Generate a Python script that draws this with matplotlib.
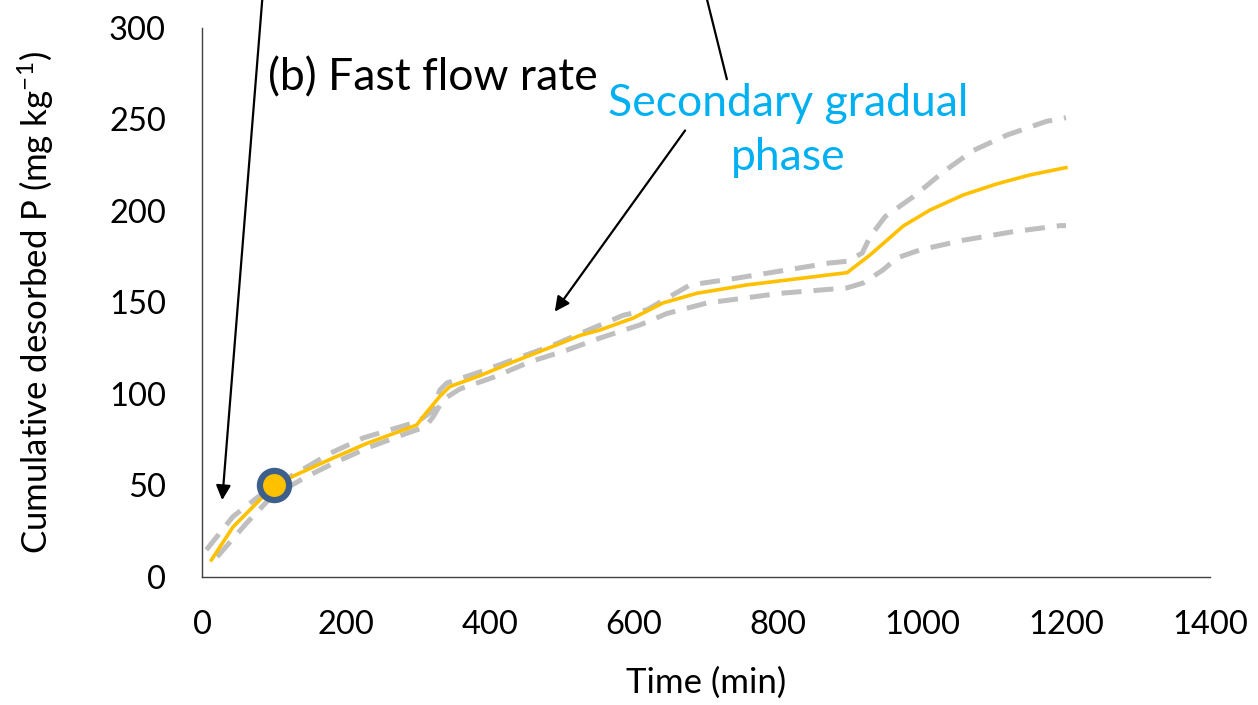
"""Cumulative desorbed P over time for the fast flow rate column."""
import matplotlib
matplotlib.use("Agg")
import matplotlib.pyplot as plt

plt.rcParams["font.family"] = ["Lato", "DejaVu Sans"]
plt.rcParams["mathtext.default"] = "regular"

# mean curve
time_mean = [13, 43, 85, 100, 126, 182, 229, 298, 312, 331, 344, 386, 432,
             500, 525, 553, 599, 640, 687, 757, 896, 928, 974, 1011, 1057,
             1104, 1150, 1200]
p_mean = [9.3, 27.3, 44, 50, 55, 65, 73, 83, 90, 99, 104, 110, 117.5,
          128, 132, 135, 141.5, 149.7, 155, 159.6, 166.3, 176, 191.8, 200.5,
          208.7, 214.8, 219.7, 223.7]

# upper bound
time_upper = [6, 43, 90, 131, 178, 224, 275, 300, 321, 330, 340, 386, 441,
              488, 525, 585, 618, 678, 738, 872, 896, 917, 928, 949, 988,
              1030, 1071, 1118, 1173, 1200]
p_upper = [14.8, 33, 47.5, 56.7, 67.6, 76, 82, 85, 91, 102, 106, 112, 120,
           126.7, 133, 143, 146, 159.6, 163, 171.6, 172.5, 177, 186, 197,
           207.8, 221.5, 233, 241.5, 249, 251]

# lower bound
time_lower = [21, 62, 97, 146, 187, 233, 285, 310, 321, 335, 358, 404, 455,
              507, 553, 608, 646, 701, 803, 896, 918, 946, 965, 997, 1057,
              1127, 1192, 1200]
p_lower = [11, 29.5, 44, 55, 63, 71, 78.6, 82, 87.5, 97, 102.7, 109, 117.5,
           124, 130.6, 137.7, 144, 149.7, 155, 158, 160.6, 167.8, 174.3,
           178.7, 184, 188.7, 192, 192]

# highlighted point
mark_t, mark_p = 100, 50

x_ticks = [0, 200, 400, 600, 800, 1000, 1200, 1400]
y_ticks = [0, 50, 100, 150, 200, 250, 300]

fig = plt.figure(figsize=(12.58, 7.05), dpi=100)
ax = fig.add_axes([0.1606, 0.1816, 0.8012, 0.7787])

dash = (0, (4, 2.4))
ax.plot(time_upper, p_upper, color="#BFBFBF", lw=3.6, ls=dash,
        solid_joinstyle="round", zorder=2)
ax.plot(time_lower, p_lower, color="#BFBFBF", lw=3.6, ls=dash,
        solid_joinstyle="round", zorder=2)
ax.plot(time_mean, p_mean, color="#FFC000", lw=2.6, solid_joinstyle="round",
        zorder=3)
ax.plot([mark_t], [mark_p], "o", ms=21, mfc="#FFC000", mec="#3D5F8C",
        mew=4.5, zorder=4)

ax.set_xlim(0, 1400)
ax.set_ylim(0, 300)
ax.set_xticks(x_ticks)
ax.set_yticks(y_ticks)
ax.tick_params(axis="both", length=0, labelsize=23.5)
ax.tick_params(axis="y", pad=26)
ax.tick_params(axis="x", pad=24)
for side in ("top", "right"):
    ax.spines[side].set_visible(False)
for side in ("left", "bottom"):
    ax.spines[side].set_color("#404040")
    ax.spines[side].set_linewidth(1.0)

ax.set_xlabel("Time (min)", fontsize=25, labelpad=19)
ax.set_ylabel("Cumulative desorbed P (mg kg$^{-1}$)", fontsize=25,
              labelpad=38)

ax.text(92, 273, "(b) Fast flow rate", fontsize=32, color="black",
        va="center", ha="left")
ax.text(814, 244, "Secondary gradual\nphase", fontsize=32, color="#00B0F0",
        ha="center", va="center", linespacing=1.4)

arrow = dict(arrowstyle="-|>", color="black", lw=1.6, mutation_scale=22,
             shrinkA=0, shrinkB=0)
ax.annotate("", xy=(28, 42), xytext=(87, 332), arrowprops=arrow,
            annotation_clip=False)
ax.annotate("", xy=(490, 145), xytext=(671, 244), arrowprops=arrow)
ax.annotate("", xy=(729, 272), xytext=(691, 332),
            arrowprops=dict(arrowstyle="-", color="black", lw=1.6,
                            shrinkA=0, shrinkB=0),
            annotation_clip=False)

fig.savefig("out.png", dpi=100)
